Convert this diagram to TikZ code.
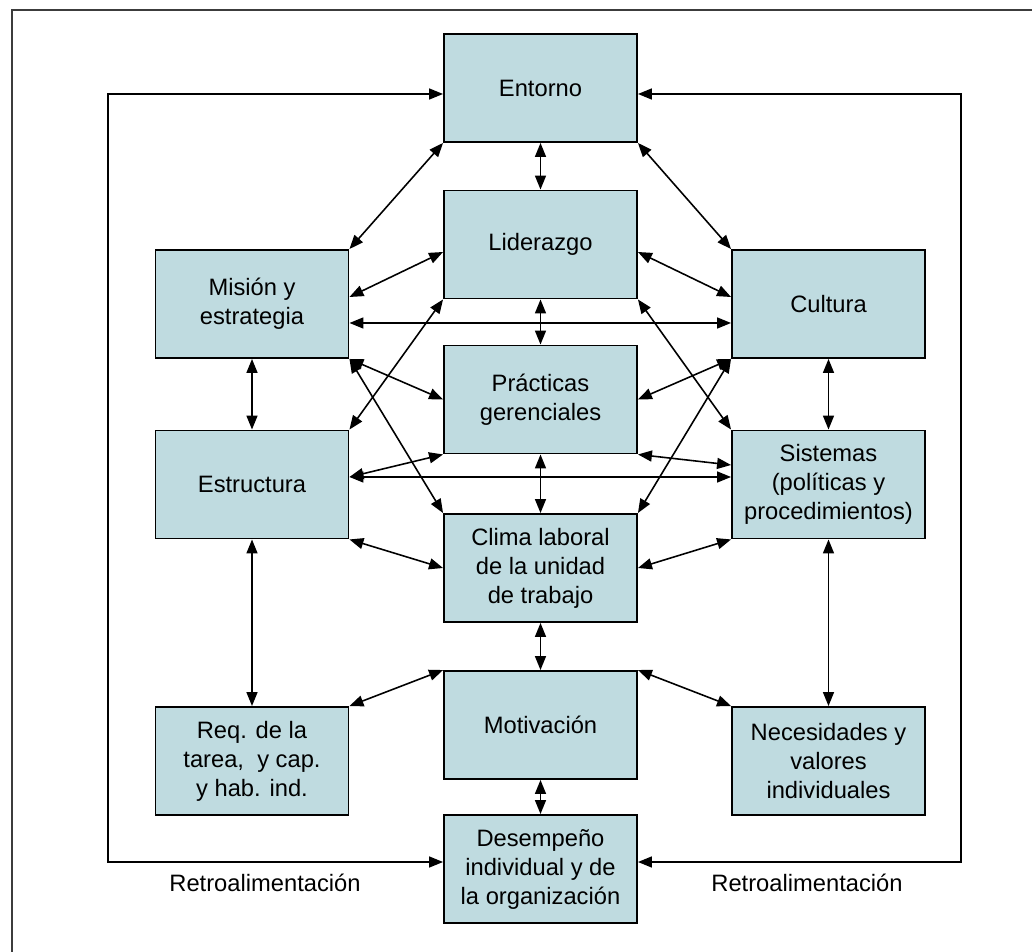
\documentclass[tikz,border=0pt]{standalone}
\usepackage{fontspec}
\setmainfont{Liberation Sans}
\usetikzlibrary{arrows.meta,positioning,calc}
\definecolor{boxfill}{RGB}{191,219,224}
\definecolor{framegray}{RGB}{60,60,60}

\begin{document}
\begin{tikzpicture}[
    x=0.02cm, y=-0.02cm,
    >={Triangle[length=2.8mm,width=2.2mm]},
    block/.style={draw, fill=boxfill, line width=1.1pt, minimum width=3.86cm, minimum height=2.16cm, inner sep=1pt, align=center, font=\fontsize{13.5}{16.5}\selectfont},
    lab/.style={font=\fontsize{13.5}{16.5}\selectfont, inner sep=1pt},
    link/.style={<->, line width=0.9pt}]
  \useasboundingbox (0,0) rectangle (1032,952);
  \draw[framegray, line width=1.2pt] (1032,10) -- (12,10) -- (12,952);
  % boxes
  \node[block] (entorno) at (540.5,88) {Entorno};
  \node[block] (lider) at (540.5,244.5) {Liderazgo};
  \node[block] (mision) at (252,304) {Misión y\\estrategia};
  \node[block] (cultura) at (828.5,304) {Cultura};
  \node[block] (practicas) at (540.5,399.5) {Prácticas\\gerenciales};
  \node[block] (estructura) at (252,484.5) {Estructura};
  \node[block] (sistemas) at (828.5,484.5) {Sistemas\\(políticas y\\procedimientos)};
  \node[block] (clima) at (540.5,568) {Clima laboral\\de la unidad\\de trabajo};
  \node[block] (motiv) at (540.5,725) {Motivación};
  \node[block] (req) at (252,761) {Req. de la\\tarea,\ \ y cap.\\y hab. ind.};
  \node[block] (neces) at (828.5,761) {Necesidades y\\valores\\individuales};
  \node[block] (desemp) at (540.5,869) {Desempeño\\individual y de\\la organización};
  % vertical links
  \foreach \a/\b in {entorno/lider, lider/practicas, practicas/clima, clima/motiv, motiv/desemp,
                     mision/estructura, estructura/req, cultura/sistemas, sistemas/neces}
    { \draw[link] (\a.south) -- (\b.north); }
  % slanted links
  \foreach \a/\b in {entorno.south west/mision.north east, entorno.south east/cultura.north west,
                     lider.south west/estructura.north east, lider.south east/sistemas.north west,
                     mision.south east/practicas.west, mision.south east/clima.north west,
                     cultura.south west/practicas.east, cultura.south west/clima.north east,
                     estructura.south east/clima.west, sistemas.south west/clima.east,
                     motiv.north west/req.north east, motiv.north east/neces.north west}
    { \draw[link] (\a) -- (\b); }
  \draw[link] ([yshift=-1.5mm]lider.west) -- ([yshift=1.4mm]mision.east);
  \draw[link] ([yshift=-1.5mm]lider.east) -- ([yshift=1.4mm]cultura.west);
  \draw[link] ([yshift=-3.8mm]mision.east) -- ([yshift=-3.8mm]cultura.west);
  \draw[link] ([yshift=1.5mm]estructura.east) -- (practicas.south west);
  \draw[link] ([yshift=1.5mm]estructura.east) -- ([yshift=1.5mm]sistemas.west);
  \draw[link] (practicas.south east) -- ([yshift=3.9mm]sistemas.west);
  % feedback loops
  \coordinate (fbl) at (108,500);
  \coordinate (fbr) at (961,500);
  \draw[link] ([yshift=-1.2mm]entorno.west) -| (fbl) |- ([yshift=1.4mm]desemp.west);
  \draw[link] ([yshift=-1.2mm]entorno.east) -| (fbr) |- ([yshift=1.4mm]desemp.east);
  \node[lab] (fbtextl) at (265,883) {Retroalimentación};
  \node[lab] (fbtextr) at (807,883) {Retroalimentación};
\end{tikzpicture}
\end{document}
